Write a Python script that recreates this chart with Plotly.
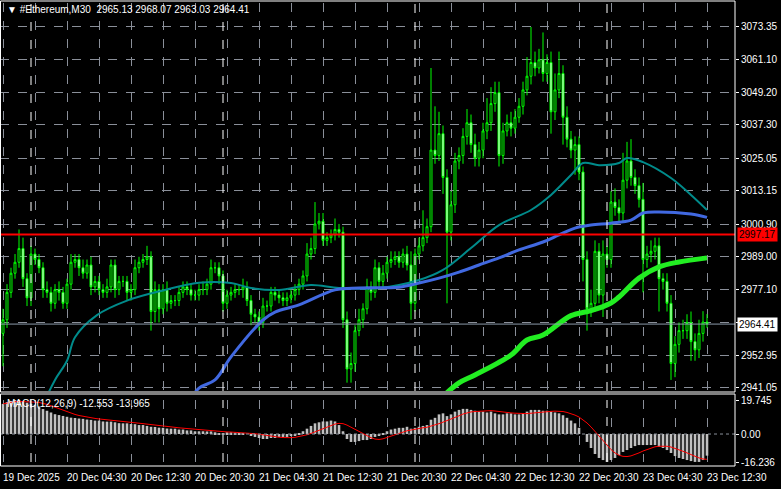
import pandas as pd
import plotly.graph_objects as go

W, H = 781, 489

# M30 candles, 19 Dec 2025 20:30 -> 23 Dec 2025 12:30
closes = [
    2966, 2976, 2983, 2987, 2992, 2981, 2974, 2990, 2988, 2985, 2977, 2976, 2972, 2977, 2976, 2972,
    2979, 2987, 2988, 2985, 2983, 2986, 2978, 2980, 2977, 2976, 2978, 2986, 2977, 2980, 2980, 2976,
    2977, 2985, 2987, 2988, 2989, 2969, 2977, 2970, 2977, 2972, 2973, 2973, 2976, 2978, 2977, 2975,
    2975, 2977, 2977, 2979, 2985, 2985, 2982, 2972, 2975, 2976, 2977, 2977, 2978, 2973, 2968, 2967,
    2965, 2971, 2971, 2976, 2975, 2974, 2973, 2974, 2975, 2977, 2979, 2982, 2990, 2992, 3001, 3002,
    2995, 2996, 2997, 2999, 2998, 2966, 2948, 2950, 2962, 2966, 2970, 2978, 2976, 2985, 2980, 2983,
    2987, 2988, 2989, 2987, 2990, 2986, 2972, 2990, 2993, 2996, 3000, 3028, 3026, 3034, 3018, 2998,
    3008, 3024, 3026, 3033, 3038, 3030, 3025, 3028, 3035, 3038, 3045, 3049, 3026, 3035, 3038, 3036,
    3040, 3044, 3050, 3055, 3060, 3058, 3061, 3056, 3060, 3042, 3050, 3056, 3040, 3032, 3028, 3030,
    3020, 2988, 2970, 2972, 2991, 2975, 2990, 2988, 3009, 3007, 3005, 3017, 3024, 3018, 3015, 3010,
    2988, 2990, 2991, 2993, 2981, 2980, 2972, 2950, 2957, 2962, 2962, 2965, 2958, 2955, 2961, 2965.13,
    2964.41,
]
first_open = 2961
wick_up = [
    4, 3, 2, 3, 7, 4, 2, 3, 2, 2, 2, 3, 2, 2, 3, 2,
    2, 3, 2, 2, 3, 2, 3, 2, 2, 2, 3, 2, 2, 2, 2, 2,
    2, 3, 2, 2, 4, 2, 3, 2, 2, 3, 2, 2, 2, 2, 2, 2,
    2, 2, 3, 2, 3, 2, 2, 2, 2, 2, 2, 2, 3, 2, 2, 2,
    2, 3, 2, 2, 2, 2, 2, 2, 2, 2, 2, 2, 4, 4, 8, 3,
    3, 2, 2, 4, 2, 2, 3, 4, 2, 4, 2, 3, 2, 3, 2, 3,
    2, 3, 2, 2, 2, 3, 5, 2, 3, 10, 3, 30, 16, 8, 3, 3,
    5, 3, 3, 3, 5, 3, 4, 3, 3, 9, 6, 4, 4, 3, 3, 4,
    3, 3, 3, 7, 13, 4, 4, 10, 3, 4, 6, 8, 3, 4, 3, 3,
    3, 2, 3, 5, 4, 3, 5, 3, 4, 5, 3, 10, 7, 8, 3, 3,
    6, 3, 4, 3, 3, 2, 3, 3, 3, 3, 4, 3, 4, 3, 5, 4,
    2.94,
]
wick_dn = [
    12, 3, 2, 2, 2, 3, 3, 3, 2, 2, 3, 2, 3, 2, 3, 2,
    2, 2, 2, 3, 2, 2, 3, 2, 2, 2, 2, 2, 3, 2, 2, 3,
    3, 2, 2, 2, 2, 7, 4, 5, 2, 3, 2, 2, 2, 2, 2, 2,
    2, 2, 2, 2, 2, 2, 3, 3, 2, 2, 2, 2, 3, 2, 4, 2,
    3, 2, 2, 2, 2, 2, 2, 2, 2, 2, 2, 2, 2, 2, 2, 2,
    2, 2, 2, 2, 2, 3, 5, 5, 3, 2, 3, 2, 3, 2, 3, 2,
    2, 2, 2, 2, 2, 2, 6, 3, 2, 2, 2, 2, 3, 2, 6, 26,
    3, 3, 3, 3, 3, 3, 3, 3, 3, 3, 3, 3, 4, 3, 2, 3,
    2, 2, 3, 2, 3, 3, 2, 3, 3, 8, 3, 3, 10, 3, 3, 9,
    3, 8, 8, 3, 3, 3, 8, 3, 3, 3, 3, 3, 3, 3, 3, 3,
    12, 3, 3, 3, 12, 3, 3, 6, 5, 3, 3, 3, 7, 4, 3, 3,
    1.38,
]

# moving averages read at sample points (candle index, price)
ma_teal_i = [10, 13, 16, 18, 23.5, 31, 40, 49, 57, 62, 69, 77, 84, 94, 104, 110, 117, 124, 132, 137, 142, 145, 149, 154, 156, 160, 167, 172, 176]
ma_teal_v = [2935, 2944, 2951, 2959.6, 2967.7, 2973, 2976.7, 2979.5, 2979.4, 2977.6, 2976.9, 2978.7, 2977.6, 2977.6, 2980.5, 2984.2, 2992.2, 3000.6, 3006.1, 3011.6, 3018.9, 3023.3, 3022.5, 3023.3, 3025.1, 3023.6, 3017.8, 3011.6, 3006.1]
ma_blue_i = [46, 49, 53, 57, 65, 68, 74, 83, 89, 99, 104, 109, 114, 119, 124, 129, 135, 139, 143, 147, 152, 157, 160, 164, 172, 176]
ma_blue_v = [2935, 2941, 2944, 2952.4, 2965.9, 2968.8, 2971.4, 2976.9, 2977.6, 2977.9, 2979.4, 2981.2, 2983.4, 2986, 2988.6, 2991.5, 2994.4, 2997, 2999.5, 3000.6, 3001.3, 3002.4, 3005, 3005.4, 3004.6, 3003.4]
ma_green_i = [110, 114, 118, 127, 131, 135, 142, 147, 152, 154, 159, 164, 169, 176]
ma_green_v = [2938, 2942.9, 2945.8, 2953.1, 2958.6, 2960.4, 2967.5, 2969.3, 2972.1, 2974.3, 2981.2, 2985.3, 2987.1, 2988.6]

macd_hist = [
    17.5, 18.5, 19.2, 19.7, 19.7, 18.8, 18.2, 17.6, 17, 16, 14.5, 13.5, 12.5, 11.5, 11, 10.5,
    10, 9.5, 9.3, 9, 8.8, 8.4, 8.2, 7.8, 7.8, 7.3, 7.2, 7.2, 6.8, 6.3, 6.2, 6.2,
    5.8, 5.7, 5.2, 5.2, 4.7, 4.2, 4.1, 3.7, 3.6, 3.2, 3.1, 3.1, 2.6, 2.6, 2.1, 2.1,
    1.6, 1.6, 1.6, 1.5, 1.5, 1, 0.6, 0.5, 1, 1, 0.8, 0.5, 0.3, 0, -0.6, -1.7,
    -2.3, -2.9, -2.9, -2.3, -2.3, -1.7, -1.7, -1.7, -1.2, -0.6, 0.5, 1.6, 3.1, 4.7, 6.2, 6.8,
    7.3, 7.3, 7.8, 7.3, 5.2, 1.6, -2.9, -4.6, -4.6, -4.1, -3.5, -3.5, -2.9, -1.7, -0.6, 0.5,
    1.6, 2.6, 3.1, 3.6, 3.6, 4.2, 3.1, 3.6, 4.2, 4.7, 5.2, 8.3, 9.4, 11.4, 12, 10.4,
    11.4, 13, 14, 14.6, 14.6, 14, 13.5, 13, 13, 12.5, 13, 12, 11.4, 11.4, 12, 12,
    11.4, 11.4, 12, 13, 14, 14, 14, 13.5, 13.5, 13, 12.5, 12, 10.9, 9.4, 7.8, 6.2,
    3.6, 0, -4.6, -8.1, -11.6, -13.9, -15.1, -16.2, -15.1, -13.9, -12.2, -10.4, -9.3, -8.1, -7, -6.4,
    -6.4, -6.4, -6.4, -6.4, -7.5, -8.1, -9.3, -11, -12.8, -13.9, -14.5, -15.1, -15.7, -16.2, -16.2, -15.1,
    -12.55,
]

price_ticks = [3073.35, 3061.10, 3049.20, 3037.30, 3025.05, 3013.15, 3000.90, 2989.00, 2977.10, 2964.85, 2952.95, 2941.05]
time_labels = ["19 Dec 2025", "20 Dec 04:30", "20 Dec 12:30", "20 Dec 20:30", "21 Dec 04:30", "21 Dec 12:30",
               "21 Dec 20:30", "22 Dec 04:30", "22 Dec 12:30", "22 Dec 20:30", "23 Dec 04:30", "23 Dec 12:30"]
day_starts = [7, 55, 103, 151]
bid_line = 2997.17
last_price = 2964.41

n = len(closes)
idx = list(range(n))
opens = [first_open] + closes[:-1]
highs = [max(o, c) + u for o, c, u in zip(opens, closes, wick_up)]
lows = [min(o, c) - d for o, c, d in zip(opens, closes, wick_dn)]
signal = pd.Series(macd_hist).rolling(9, min_periods=1).mean().tolist()

# pixel layout helpers
def py(px):
    return 1 - px / H

x_right = 735 / W
x_range = [-0.75, 183]

fig = go.Figure()
fig.add_trace(go.Scatter(x=ma_teal_i, y=ma_teal_v, mode="lines", line=dict(color="#008B8B", width=2, shape="spline"), xaxis="x", yaxis="y"))
fig.add_trace(go.Scatter(x=ma_blue_i, y=ma_blue_v, mode="lines", line=dict(color="#4169E1", width=3, shape="spline"), xaxis="x", yaxis="y"))
fig.add_trace(go.Scatter(x=ma_green_i, y=ma_green_v, mode="lines", line=dict(color="#22EE22", width=5, shape="spline"), xaxis="x", yaxis="y"))
fig.add_trace(go.Candlestick(
    x=idx, open=opens, high=highs, low=lows, close=closes,
    increasing=dict(line=dict(color="#00FF00", width=1), fillcolor="black"),
    decreasing=dict(line=dict(color="#00FF00", width=1), fillcolor="white"),
    whiskerwidth=0, xaxis="x", yaxis="y",
))
fig.add_trace(go.Bar(x=idx, y=macd_hist, marker=dict(color="#C0C0C0", line=dict(width=0)), xaxis="x2", yaxis="y2"))
fig.add_trace(go.Scatter(x=idx, y=signal, mode="lines", line=dict(color="red", width=1), xaxis="x2", yaxis="y2"))

grid_x = list(range(0, n, 8))
xcommon = dict(range=x_range, domain=[0, x_right], showticklabels=False, ticks="", tickvals=grid_x,
               showgrid=True, gridcolor="#8A8F99", griddash="dash", gridwidth=1, zeroline=False,
               rangeslider=dict(visible=False), fixedrange=True)

fig.update_layout(
    width=W, height=H, margin=dict(l=0, r=0, t=0, b=0),
    paper_bgcolor="black", plot_bgcolor="black", showlegend=False, bargap=0.35,
    font=dict(family="Liberation Sans", size=10, color="white"),
    xaxis=dict(**xcommon, anchor="y"),
    xaxis2=dict(**xcommon, anchor="y2"),
    yaxis=dict(domain=[py(391), py(3)], range=[2939.95, 3081.76], side="right", anchor="x",
               tickvals=price_ticks, ticktext=["" if v == 2964.85 else f"{v:.2f}" for v in price_ticks],
               ticks="outside", ticklen=3, tickcolor="white", showgrid=True, gridcolor="#8A8F99",
               griddash="dash", zeroline=False, fixedrange=True, automargin=False),
    yaxis2=dict(domain=[py(462), py(400)], range=[-16.236, 19.745], side="right", anchor="x2",
                tickvals=[19.745, 0, -16.236], ticktext=["19.745", "0.00", "-16.236"],
                ticks="outside", ticklen=3, tickcolor="white", showgrid=False, zeroline=False,
                fixedrange=True, automargin=False),
)

shapes = []
# day separators
for d in day_starts:
    for yr in ("y", "y2"):
        shapes.append(dict(type="line", xref="x", yref=f"{yr} domain", x0=d, x1=d, y0=0, y1=1,
                           line=dict(color="white", width=1, dash="dash")))
shapes += [
    dict(type="line", xref="paper", yref="y2", x0=0, x1=x_right, y0=0, y1=0, line=dict(color="#8A8F99", width=1, dash="dot")),
    dict(type="line", xref="paper", yref="y", x0=0, x1=x_right, y0=bid_line, y1=bid_line, line=dict(color="red", width=2)),
    dict(type="line", xref="paper", yref="y", x0=0, x1=x_right, y0=last_price, y1=last_price, line=dict(color="#8A9AAA", width=1)),
    dict(type="rect", xref="paper", yref="paper", x0=0.5 / W, x1=x_right, y0=py(392), y1=py(1), line=dict(color="white", width=1)),
    dict(type="rect", xref="paper", yref="paper", x0=0.5 / W, x1=x_right, y0=py(466), y1=py(394), line=dict(color="white", width=1)),
]
fig.update_layout(shapes=shapes)

ann = [
    dict(text="▼ #Ethereum,M30  2965.13 2968.07 2963.03 2964.41", xref="paper", yref="paper",
         x=5 / W, y=py(10), xanchor="left", yanchor="middle", showarrow=False, font=dict(size=10, color="white")),
    dict(text="MACD(12,26,9) -12.553 -13.965", xref="paper", yref="paper",
         x=5 / W, y=py(403), xanchor="left", yanchor="middle", showarrow=False, font=dict(size=10, color="white")),
    dict(text="2997.17", xref="paper", yref="y", x=737 / W, y=bid_line, xanchor="left", yanchor="middle",
         showarrow=False, bgcolor="red", font=dict(size=10, color="black"), borderpad=1),
    dict(text="2964.41", xref="paper", yref="y", x=737 / W, y=last_price, xanchor="left", yanchor="middle",
         showarrow=False, bgcolor="white", font=dict(size=10, color="black"), borderpad=1),
]
for k, lab in enumerate(time_labels):
    ann.append(dict(text=lab, xref="x", yref="paper", x=k * 16 - 0.5, y=py(477), xanchor="left", yanchor="middle",
                    showarrow=False, font=dict(size=10, color="white")))
fig.update_layout(annotations=ann)

fig.write_html("out.html", config={"displayModeBar": False},
               post_script="document.body.style.margin='0';")
